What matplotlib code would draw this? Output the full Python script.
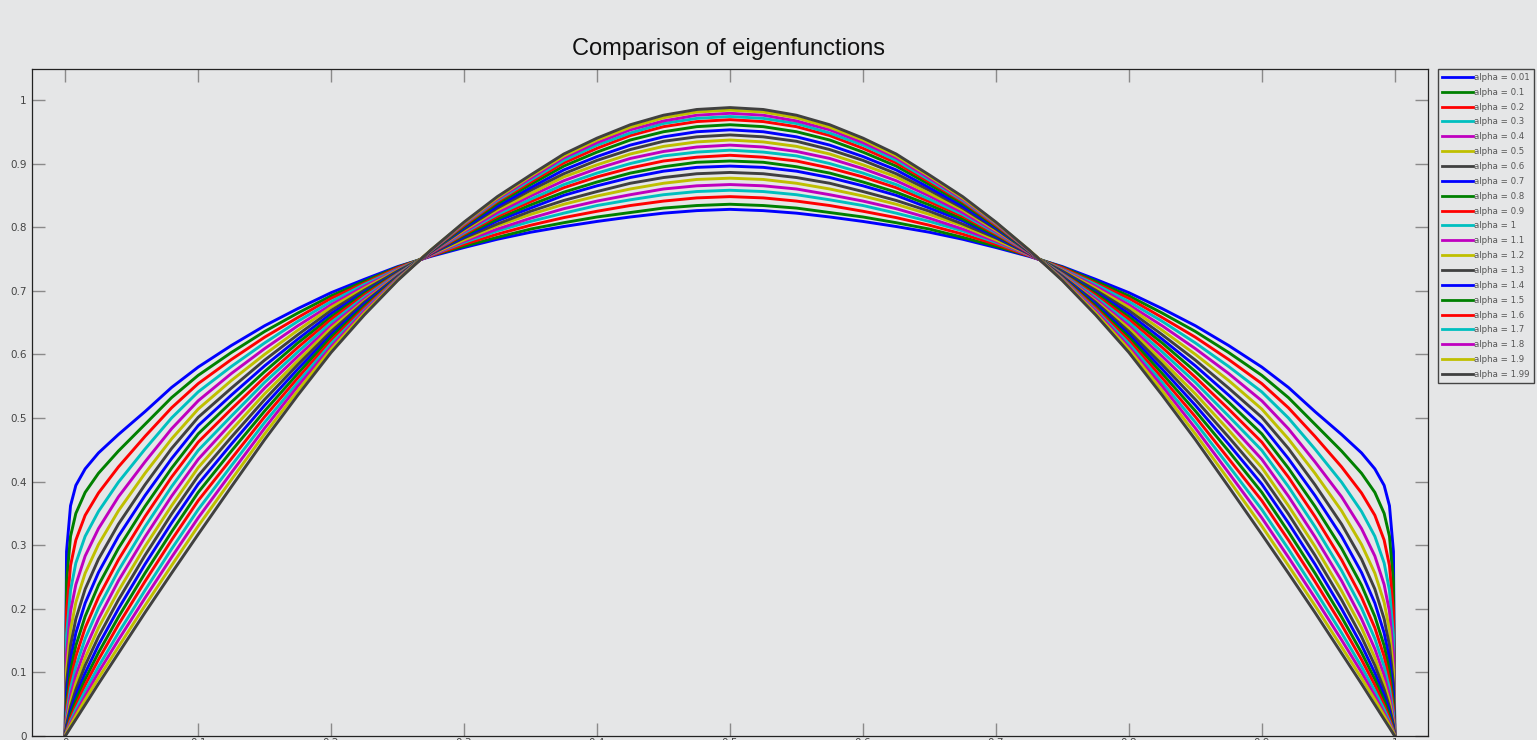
import numpy as np
from matplotlib import pyplot as plt

# x positions of the samples on the left half (the curves are symmetric about 0.5)
x_half = [0, 0.001, 0.004, 0.008, 0.015, 0.025, 0.04, 0.06, 0.08, 0.1, 0.125,
          0.15, 0.175, 0.2, 0.225, 0.25, 0.275, 0.3, 0.325, 0.35, 0.375, 0.4,
          0.425, 0.45, 0.475, 0.5]

alpha_labels = ['0.01', '0.1', '0.2', '0.3', '0.4', '0.5', '0.6', '0.7', '0.8', '0.9',
                '1', '1.1', '1.2', '1.3', '1.4', '1.5', '1.6', '1.7', '1.8', '1.9', '1.99']

# eigenfunction values, one list per alpha (left half)
u_001 = [0, .290, .362, .394, .420, .445, .474, .510, .548, .580, .614, .645, .672, .697, .718, .738, .754, .768, .781, .792, .801, .809, .816, .822, .826, .828]
u_01 = [0, .243, .314, .350, .383, .413, .448, .490, .532, .567, .603, .636, .665, .692, .715, .737, .755, .770, .784, .797, .807, .816, .823, .830, .834, .836]
u_02 = [0, .196, .268, .308, .347, .382, .423, .471, .516, .554, .592, .627, .658, .688, .712, .736, .755, .773, .789, .803, .815, .825, .834, .841, .846, .848]
u_03 = [0, .158, .229, .272, .314, .353, .399, .451, .500, .541, .581, .618, .652, .683, .710, .734, .756, .776, .794, .809, .822, .834, .843, .851, .856, .858]
u_04 = [0, .128, .196, .238, .283, .326, .376, .431, .483, .527, .570, .609, .645, .678, .707, .733, .756, .778, .797, .814, .829, .841, .851, .860, .865, .867]
u_05 = [0, .103, .167, .210, .256, .301, .354, .413, .467, .514, .559, .600, .638, .674, .704, .732, .757, .780, .802, .820, .836, .849, .860, .869, .875, .877]
u_06 = [0, .083, .142, .184, .231, .278, .333, .395, .452, .501, .547, .591, .631, .669, .701, .731, .758, .783, .805, .825, .842, .856, .869, .878, .884, .886]
u_07 = [0, .067, .121, .162, .209, .257, .314, .378, .436, .488, .536, .582, .624, .664, .698, .729, .758, .785, .810, .830, .850, .865, .878, .888, .894, .896]
u_08 = [0, .054, .103, .142, .188, .237, .295, .361, .421, .475, .525, .573, .618, .659, .696, .728, .759, .787, .813, .835, .855, .871, .885, .895, .902, .904]
u_09 = [0, .043, .088, .125, .170, .218, .277, .345, .407, .462, .514, .564, .611, .655, .693, .727, .759, .789, .817, .840, .862, .879, .893, .904, .910, .913]
u_10 = [0, .035, .075, .109, .153, .201, .260, .329, .392, .449, .503, .556, .604, .650, .690, .726, .760, .791, .820, .844, .867, .885, .900, .912, .918, .921]
u_11 = [0, .028, .064, .095, .137, .184, .244, .313, .377, .435, .492, .547, .597, .645, .687, .725, .760, .793, .823, .849, .873, .892, .908, .919, .926, .929]
u_12 = [0, .022, .054, .083, .123, .170, .228, .298, .362, .422, .481, .538, .590, .641, .684, .724, .761, .795, .827, .853, .879, .898, .915, .927, .934, .937]
u_13 = [0, .018, .046, .073, .111, .156, .214, .284, .349, .409, .470, .529, .584, .636, .682, .723, .761, .797, .830, .858, .884, .905, .922, .935, .942, .945]
u_14 = [0, .014, .039, .064, .099, .143, .200, .270, .335, .396, .459, .520, .577, .631, .679, .722, .762, .799, .833, .862, .890, .911, .929, .942, .950, .953]
u_15 = [0, .011, .033, .056, .089, .131, .187, .256, .321, .383, .448, .511, .570, .627, .676, .721, .762, .801, .837, .867, .896, .918, .937, .950, .958, .961]
u_16 = [0, .009, .028, .048, .080, .120, .175, .243, .308, .370, .436, .502, .563, .622, .673, .720, .763, .803, .840, .871, .901, .924, .944, .958, .966, .969]
u_17 = [0, .007, .023, .042, .071, .109, .162, .229, .294, .356, .425, .493, .556, .617, .670, .719, .763, .805, .842, .874, .905, .929, .948, .963, .971, .974]
u_18 = [0, .006, .020, .036, .063, .100, .151, .217, .281, .343, .414, .484, .550, .612, .668, .718, .763, .806, .844, .877, .909, .933, .953, .967, .976, .979]
u_19 = [0, .005, .017, .032, .057, .091, .140, .205, .268, .330, .403, .475, .543, .608, .665, .717, .764, .807, .846, .880, .912, .937, .957, .972, .981, .984]
u_199 = [0, .003, .013, .026, .049, .082, .130, .194, .256, .317, .392, .466, .536, .603, .662, .716, .764, .808, .848, .882, .915, .940, .961, .976, .985, .988]

curves = [u_001, u_01, u_02, u_03, u_04, u_05, u_06, u_07, u_08, u_09, u_10,
          u_11, u_12, u_13, u_14, u_15, u_16, u_17, u_18, u_19, u_199]

# old matlab colour order
colors = [(0, 0, 1), (0, 0.5, 0), (1, 0, 0), (0, 0.75, 0.75),
          (0.75, 0, 0.75), (0.75, 0.75, 0), (0.25, 0.25, 0.25)]

x_ticks = [0, 0.1, 0.2, 0.3, 0.4, 0.5, 0.6, 0.7, 0.8, 0.9, 1]
y_ticks = [0, 0.1, 0.2, 0.3, 0.4, 0.5, 0.6, 0.7, 0.8, 0.9, 1]
tick_labels = ['0', '0.1', '0.2', '0.3', '0.4', '0.5', '0.6', '0.7', '0.8', '0.9', '1']

bg = '#e5e6e7'
fig = plt.figure(dpi=100, figsize=(15.37, 7.40), facecolor=bg)
ax = fig.add_axes([0.0208, 0.0054, 0.9083, 0.9014], facecolor=bg)

# full curve: left half plus its mirror image
xh = np.array(x_half)
x_full = np.concatenate([xh, 1 - xh[-2::-1]])
for i, u in enumerate(curves):
    uh = np.array(u)
    u_full = np.concatenate([uh, uh[-2::-1]])
    ax.plot(x_full, u_full, color=colors[i % 7], lw=2.1,
            label='alpha = ' + alpha_labels[i])

ax.set_xlim(-0.025, 1.025)
ax.set_ylim(0, 1.0487)
ax.set_xticks(x_ticks)
ax.set_xticklabels(tick_labels)
ax.set_yticks(y_ticks)
ax.set_yticklabels(tick_labels)
ax.tick_params(axis='both', direction='in', length=9.5, width=1, color='#8a8a8a',
               labelsize=7.5, labelcolor='#444444', top=True, right=True)
ax.tick_params(axis='y', pad=4)
ax.tick_params(axis='x', pad=1.5)
for s in ax.spines.values():
    s.set_color('#222222')
    s.set_linewidth(0.9)

fig.text(0.474, 0.934, 'Comparison of eigenfunctions', ha='center', va='center',
         fontsize=17, family='Liberation Sans', color='#111111')

leg = ax.legend(loc='upper left', bbox_to_anchor=(1438 / 1537, 671 / 740),
                bbox_transform=fig.transFigure, borderaxespad=0, fontsize=6.2,
                handlelength=3.6, handletextpad=0.15, labelspacing=0.68,
                borderpad=0.45, fancybox=False, framealpha=1, facecolor=bg,
                edgecolor='#444444')
for t in leg.get_texts():
    t.set_color('#555555')
for l in leg.get_lines():
    l.set_linewidth(2)

plt.savefig('out.png', dpi=100, facecolor=bg)
